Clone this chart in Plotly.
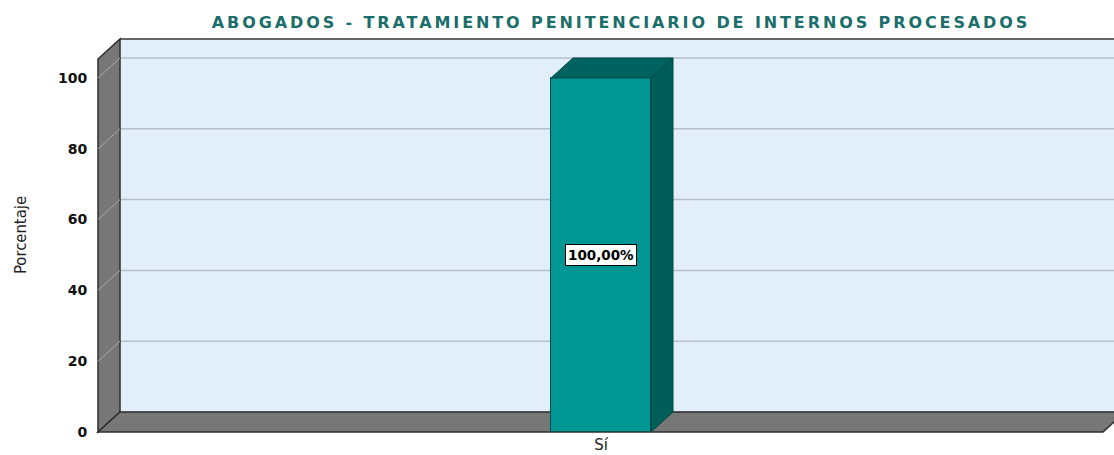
import plotly.graph_objects as go

# ---- data ----
categories = ["Sí"]
values = [100.0]
y_ticks = [0, 20, 40, 60, 80, 100]
title_text = "ABOGADOS - TRATAMIENTO PENITENCIARIO DE INTERNOS PROCESADOS"
y_title = "Porcentaje"

# ---- geometry (axis units) ----
X_MIN, X_MAX = -5.05, 5.13
Y_MIN, Y_MAX = -0.565, 111.86
DX, DY = 0.22, 5.65          # 3D depth offset
WALL_X0 = -5.03              # front-left edge of the left wall
FLOOR_X1 = 5.02              # front-right edge of the floor
WALL_TOP = 111.0             # back-wall top
BAR_W = 1.0

FRONT = "#009693"
SIDE = "#005E5A"
TOP = "#00625E"
WALL = "#777777"
BACK = "#E2EEFA"

xs = list(range(len(categories)))

fig = go.Figure()

fig.add_trace(go.Bar(x=xs, y=values, width=BAR_W,
                     marker=dict(color=FRONT, line=dict(color="#004F4B", width=1)),
                     showlegend=False, hoverinfo="skip"))

for xi, v in zip(xs, values):
    r = xi + BAR_W / 2
    l = xi - BAR_W / 2
    fig.add_trace(go.Scatter(x=[r, r + DX, r + DX, r, r], y=[0, DY, v + DY, v, 0],
                             fill="toself", fillcolor=SIDE, mode="lines",
                             line=dict(color="#004A47", width=1),
                             showlegend=False, hoverinfo="skip"))
    fig.add_trace(go.Scatter(x=[l, l + DX, r + DX, r, l], y=[v, v + DY, v + DY, v, v],
                             fill="toself", fillcolor=TOP, mode="lines",
                             line=dict(color="#004A47", width=1),
                             showlegend=False, hoverinfo="skip"))
    fig.add_annotation(x=xi, y=v / 2, text=f"{v:.2f}%".replace(".", ","),
                       showarrow=False, bgcolor="white", bordercolor="black",
                       borderwidth=1, borderpad=2,
                       font=dict(family="DejaVu Sans", size=13.5, color="black", weight="bold"))

shapes = []
# back wall
shapes.append(dict(type="rect", xref="x", yref="y", x0=WALL_X0 + DX, x1=X_MAX + 1,
                   y0=DY, y1=WALL_TOP, fillcolor=BACK, line=dict(width=0), layer="below"))
shapes.append(dict(type="line", xref="x", yref="y", x0=WALL_X0 + DX, x1=X_MAX + 1,
                   y0=WALL_TOP, y1=WALL_TOP, line=dict(color="#3A3A3A", width=1.5), layer="below"))
# back-wall gridlines
for t in y_ticks:
    shapes.append(dict(type="line", xref="x", yref="y", x0=WALL_X0 + DX, x1=X_MAX + 1,
                       y0=t + DY, y1=t + DY, line=dict(color="#B6BFCB", width=1.5), layer="below"))
# left wall
shapes.append(dict(type="path", xref="x", yref="y",
                   path=f"M {WALL_X0},0 L {WALL_X0 + DX},{DY} L {WALL_X0 + DX},{WALL_TOP} "
                        f"L {WALL_X0},{WALL_TOP - DY} Z",
                   fillcolor=WALL, line=dict(color="#2E2E2E", width=1.5), layer="below"))
for t in y_ticks[1:]:
    shapes.append(dict(type="line", xref="x", yref="y", x0=WALL_X0, x1=WALL_X0 + DX,
                       y0=t, y1=t + DY, line=dict(color="#A8A8A8", width=1), layer="below"))
# floor
shapes.append(dict(type="path", xref="x", yref="y",
                   path=f"M {WALL_X0},0 L {FLOOR_X1},0 L {FLOOR_X1 + DX},{DY} L {WALL_X0 + DX},{DY} Z",
                   fillcolor=WALL, line=dict(color="#2E2E2E", width=1.5), layer="below"))

fig.update_layout(
    width=1114, height=455,
    margin=dict(l=96, r=0, t=36, b=21),
    paper_bgcolor="white", plot_bgcolor="white",
    shapes=shapes,
    title=dict(text=title_text, x=621 / 1114, xanchor="center", xref="container",
               y=1 - 22 / 455, yanchor="middle", yref="container",
               font=dict(family="DejaVu Sans", size=16, color="#1B6E6A", weight="bold")),
    xaxis=dict(range=[X_MIN, X_MAX], tickmode="array", tickvals=xs, ticktext=categories,
               showgrid=False, zeroline=False, showline=False, automargin=False,
               ticks="",
               tickfont=dict(family="DejaVu Sans", size=15, color="#222222")),
    yaxis=dict(range=[Y_MIN, Y_MAX], tickmode="array", tickvals=y_ticks,
               showgrid=False, zeroline=False, showline=False, automargin=False,
               ticks="outside", ticklen=5, tickcolor="rgba(0,0,0,0)",
               tickfont=dict(family="DejaVu Sans", size=14, color="#111111", weight="bold"),
               title=dict(text=y_title, standoff=27,
                          font=dict(family="Liberation Sans Narrow, DejaVu Sans Condensed, Liberation Sans",
                                    size=16.5, color="#222222"))),
    bargap=0,
)

post = """
document.body.style.margin = '0';
document.body.style.padding = '0';
var t = document.querySelector('.gtitle');
if (t) { t.style.letterSpacing = '2.9px'; }
"""
fig.write_html("out.html", post_script=post, config={"displayModeBar": False})
